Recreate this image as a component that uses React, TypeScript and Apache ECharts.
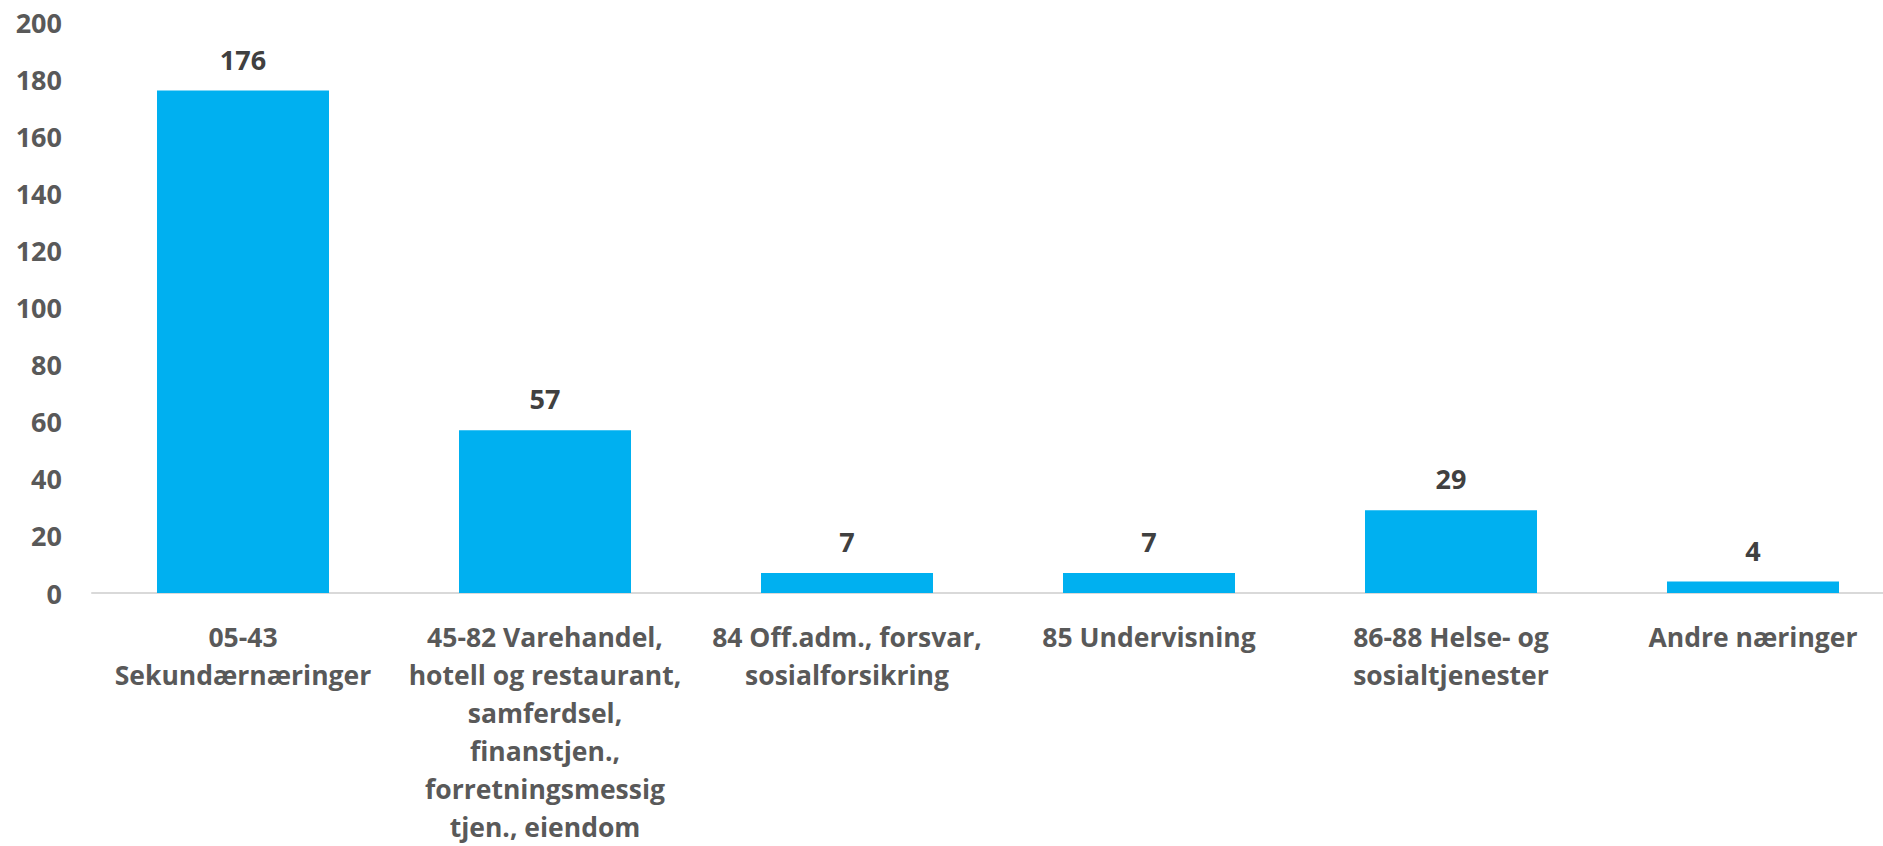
import React, { useEffect, useRef } from "react";
import * as echarts from "echarts";

const categories: string[] = [
  "05-43\nSekundærnæringer",
  "45-82 Varehandel,\nhotell og restaurant,\nsamferdsel,\nfinanstjen.,\nforretningsmessig\ntjen., eiendom",
  "84 Off.adm., forsvar,\nsosialforsikring",
  "85 Undervisning",
  "86-88 Helse- og\nsosialtjenester",
  "Andre næringer",
];
const values: number[] = [176, 57, 7, 7, 29, 4];
const yMin = 0;
const yMax = 200;
const yInterval = 20;

const FONT = "'Open Sans', 'Noto Sans', sans-serif";

export default function App() {
  const ref = useRef<HTMLDivElement>(null);
  useEffect(() => {
    document.body.style.margin = "0";
    document.body.style.overflow = "hidden";
    if (!ref.current) return;
    const chart = echarts.init(ref.current, null, { renderer: "svg" });
    chart.setOption({
      animation: false,
      backgroundColor: "#ffffff",
      grid: {
        left: 92,
        top: 22,
        width: 1812,
        bottom: 253,
        containLabel: false,
        outerBoundsMode: "none",
      },
      xAxis: {
        type: "category",
        data: categories,
        axisLine: { show: true, lineStyle: { color: "#D9D9D9", width: 2 } },
        axisTick: { show: false },
        axisLabel: {
          interval: 0,
          margin: 25,
          color: "#595959",
          fontFamily: FONT,
          fontWeight: "bold",
          fontSize: 26.5,
          lineHeight: 38,
          align: "center",
        },
        splitLine: { show: false },
      },
      yAxis: {
        type: "value",
        min: yMin,
        max: yMax,
        interval: yInterval,
        axisLine: { show: false },
        axisTick: { show: false },
        splitLine: { show: false },
        axisLabel: {
          margin: 30,
          color: "#595959",
          fontFamily: FONT,
          fontWeight: "bold",
          fontSize: 27,
        },
      },
      series: [
        {
          type: "bar",
          data: values,
          barWidth: 172,
          itemStyle: { color: "#00B0F0" },
          label: {
            show: true,
            position: "top",
            distance: 18,
            color: "#404040",
            fontFamily: FONT,
            fontWeight: "bold",
            fontSize: 27,
          },
        },
      ],
    });
    return () => chart.dispose();
  }, []);
  return <div ref={ref} style={{ width: 1883, height: 846 }} />;
}
